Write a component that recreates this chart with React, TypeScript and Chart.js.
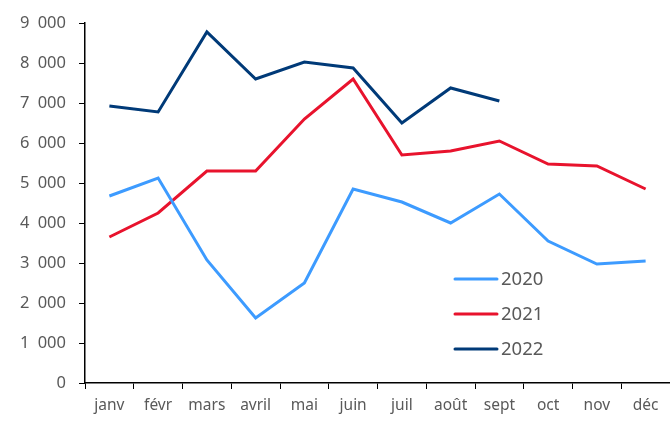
import React, { useEffect, useRef } from "react";
import { Chart, registerables } from "chart.js";

Chart.register(...registerables);

const months = ["janv", "févr", "mars", "avril", "mai", "juin", "juil", "août", "sept", "oct", "nov", "déc"];
const s2020 = [4675, 5125, 3075, 1625, 2500, 4850, 4525, 4000, 4725, 3550, 2975, 3050];
const s2021 = [3650, 4250, 5300, 5300, 6600, 7600, 5700, 5800, 6050, 5475, 5425, 4850];
const s2022 = [6925, 6775, 8775, 7600, 8025, 7875, 6500, 7375, 7050, null, null, null];
const seriesNames = ["2020", "2021", "2022"];
const colors = ["#3d9bff", "#e8132d", "#003a78"];

const FONT = "'Noto Sans', sans-serif";
const TEXT = "#595959";

const fmt = (v: number) => String(v).replace(/\B(?=(\d{3})+(?!\d))/g, "\u2002");

const insideLegend = {
  id: "insideLegend",
  afterDraw(chart: any) {
    const ctx = chart.ctx;
    const x0 = 455;
    const y0 = 279;
    const gap = 35;
    ctx.save();
    chart.data.datasets.forEach((ds: any, i: number) => {
      const y = y0 + i * gap;
      ctx.strokeStyle = ds.borderColor;
      ctx.lineWidth = 3;
      ctx.lineCap = "round";
      ctx.beginPath();
      ctx.moveTo(x0, y);
      ctx.lineTo(x0 + 42, y);
      ctx.stroke();
      ctx.fillStyle = TEXT;
      ctx.font = `18.5px ${FONT}`;
      ctx.textBaseline = "middle";
      ctx.textAlign = "left";
      ctx.fillText(ds.label, x0 + 46, y + 1);
    });
    ctx.restore();
  },
};

export default function App() {
  const ref = useRef<HTMLCanvasElement | null>(null);
  useEffect(() => {
    document.body.style.margin = "0";
    const chart = new Chart(ref.current!, {
      type: "line",
      data: {
        labels: months,
        datasets: [s2020, s2021, s2022].map((d, i) => ({
          label: seriesNames[i],
          data: d,
          borderColor: colors[i],
          backgroundColor: colors[i],
          borderWidth: 3,
          pointRadius: 0,
          tension: 0,
          fill: false,
        })),
      },
      options: {
        animation: false,
        responsive: false,
        maintainAspectRatio: false,
        layout: { padding: { top: 23, right: 0, left: 0, bottom: 0 } },
        plugins: { legend: { display: false }, tooltip: { enabled: false } },
        scales: {
          x: {
            offset: true,
            grid: { display: true, drawOnChartArea: false, drawTicks: true, tickLength: 6, color: "#000", offset: true },
            border: { color: "#000", width: 1.5 },
            ticks: { color: TEXT, font: { family: FONT, size: 15.5 }, padding: 7, maxRotation: 0, autoSkip: false },
            afterFit: (s: any) => { s.height = 38; },
          },
          y: {
            min: 0,
            max: 9000,
            grid: { display: true, drawOnChartArea: false, drawTicks: true, tickLength: 6, color: "#000" },
            border: { color: "#000", width: 1.5 },
            ticks: { stepSize: 1000, color: TEXT, font: { family: FONT, size: 16.5 }, padding: 13, callback: (v: any) => fmt(Number(v)) },
            afterFit: (s: any) => { s.width = 85; },
          },
        },
      },
      plugins: [insideLegend],
    });
    return () => chart.destroy();
  }, []);
  return (
    <div style={{ position: "absolute", left: 0, top: 0, width: 670, height: 421 }}>
      <canvas ref={ref} width={670} height={421} style={{ width: 670, height: 421 }} />
    </div>
  );
}
